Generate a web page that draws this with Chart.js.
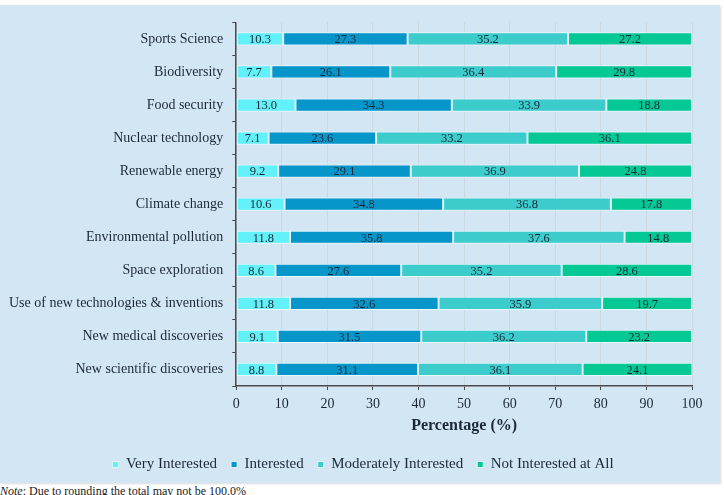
<!DOCTYPE html>
<html>
<head>
<meta charset="utf-8">
<script src="https://cdn.jsdelivr.net/npm/chart.js@4.4.0/dist/chart.umd.min.js"></script>
<style>
  html, body { margin: 0; padding: 0; background: #fff; }
  body { width: 724px; height: 495px; position: relative; overflow: hidden; }
  #panel {
    position: absolute; left: 0; top: 5px; width: 720px; height: 478px;
    background: #d3e6f3; box-shadow: 1px 1px 2px rgba(0,0,0,0.15);
  }
  #note {
    position: absolute; left: 0; top: 484px;
    font-family: "Liberation Serif", serif; font-size: 12px; color: #222;
  }
</style>
</head>
<body>
<div id="panel"><canvas id="chart" width="720" height="478"></canvas></div>
<div id="note"><i>Note</i>: Due to rounding the total may not be 100.0%</div>
<script>
// Survey topics (top to bottom)
const topics = [
  'Sports Science',
  'Biodiversity',
  'Food security',
  'Nuclear technology',
  'Renewable energy',
  'Climate change',
  'Environmental pollution',
  'Space exploration',
  'Use of new technologies & inventions',
  'New medical discoveries',
  'New scientific discoveries'
];

// Percentages per interest level
const veryInterested     = [10.3, 7.7, 13.0, 7.1, 9.2, 10.6, 11.8, 8.6, 11.8, 9.1, 8.8];
const interested         = [27.3, 26.1, 34.3, 23.6, 29.1, 34.8, 35.8, 27.6, 32.6, 31.5, 31.1];
const moderatelyInterest = [35.2, 36.4, 33.9, 33.2, 36.9, 36.8, 37.6, 35.2, 35.9, 36.2, 36.1];
const notInterested      = [27.2, 29.8, 18.8, 36.1, 24.8, 17.8, 14.8, 28.6, 19.7, 23.2, 24.1];

const seriesNames = ['Very Interested', 'Interested', 'Moderately Interested', 'Not Interested at All'];
const seriesColors = ['#62f1f8', '#0796c9', '#3bcccb', '#04c995'];

const serif = '"Liberation Serif", "DejaVu Serif", serif';
const textColor = '#1c2838';

// draws the value in the middle of every bar segment
const valueLabels = {
  id: 'valueLabels',
  afterDatasetsDraw(chart) {
    const ctx = chart.ctx;
    ctx.save();
    ctx.font = '12.5px ' + serif;
    ctx.fillStyle = textColor;
    ctx.textAlign = 'center';
    ctx.textBaseline = 'middle';
    chart.data.datasets.forEach((ds, i) => {
      const meta = chart.getDatasetMeta(i);
      meta.data.forEach((bar, j) => {
        const cx = (bar.x + bar.base) / 2;
        ctx.fillText(ds.data[j].toFixed(1), cx, bar.y + 1);
      });
    });
    ctx.restore();
  }
};

// the right padding pulls the legend off-centre, push it back a bit
const legendShift = {
  id: 'legendShift',
  afterLayout(chart) {
    if (chart.legend) {
      chart.legend.left += 17;
      chart.legend.right += 17;
    }
  }
};

const allSeries = [veryInterested, interested, moderatelyInterest, notInterested];

new Chart(document.getElementById('chart'), {
  type: 'bar',
  data: {
    labels: topics,
    datasets: allSeries.map((vals, i) => ({
      label: seriesNames[i],
      data: vals,
      backgroundColor: seriesColors[i],
      borderColor: 'rgba(235,250,255,0.85)',
      borderWidth: 1,
      borderSkipped: false,
      categoryPercentage: 1,
      barPercentage: 0.4
    }))
  },
  options: {
    indexAxis: 'y',
    responsive: false,
    animation: false,
    layout: {
      padding: { top: 15, right: 28, bottom: 1, left: 0 }
    },
    plugins: {
      legend: {
        position: 'bottom',
        labels: {
          boxWidth: 6,
          boxHeight: 6,
          padding: 14,
          color: textColor,
          font: { family: serif, size: 15 }
        }
      },
      tooltip: { enabled: false }
    },
    scales: {
      x: {
        stacked: true,
        min: 0,
        max: 100,
        ticks: {
          stepSize: 10,
          color: textColor,
          font: { family: serif, size: 14 },
          padding: 6
        },
        grid: {
          color: 'rgba(200,205,210,0.55)',
          tickColor: '#4a4a4a',
          tickLength: 4
        },
        border: { color: '#4a4a4a', width: 1.5 },
        title: {
          display: true,
          text: 'Percentage (%)',
          color: textColor,
          font: { family: serif, size: 16, weight: 'bold' },
          padding: { top: -3, bottom: 8 }
        }
      },
      y: {
        stacked: true,
        ticks: {
          color: textColor,
          font: { family: serif, size: 14 },
          padding: 9
        },
        grid: {
          drawOnChartArea: false,
          tickColor: '#4a4a4a',
          tickLength: 4
        },
        border: { color: '#4a4a4a', width: 1.5 }
      }
    }
  },
  plugins: [valueLabels, legendShift]
});
</script>
</body>
</html>
